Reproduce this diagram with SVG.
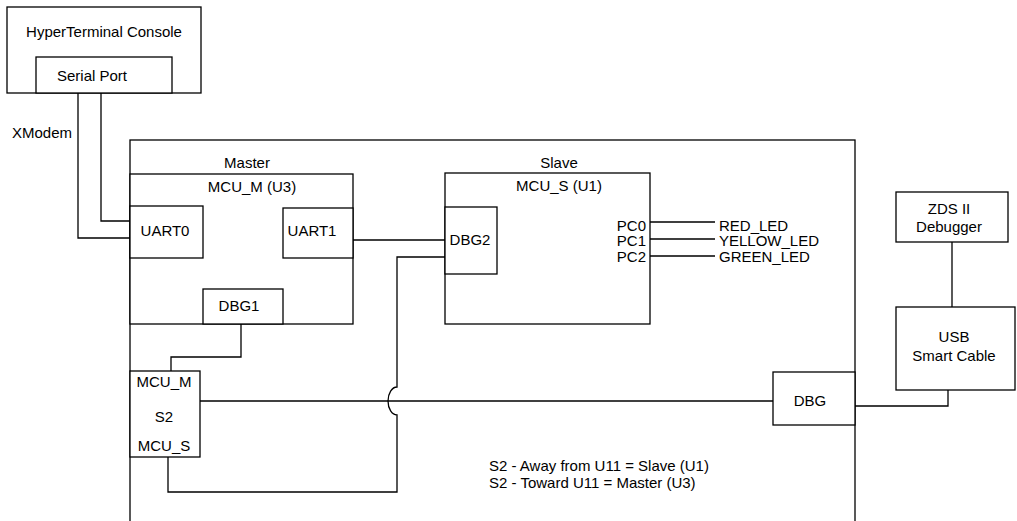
<svg xmlns="http://www.w3.org/2000/svg" width="1017" height="521" viewBox="0 0 1017 521">
<style>
.b{fill:#fff;stroke:#000;stroke-width:1.3}
.w{fill:none;stroke:#000;stroke-width:1.3}
text{font-family:"Liberation Sans",Arial,sans-serif;font-size:15px;fill:#000}
.c{text-anchor:middle}
.r{text-anchor:end}
</style>
<rect width="1017" height="521" fill="#fff"/>
<g id="board"><rect class="b" x="130" y="140" width="725" height="400"/></g>
<g id="hyperterminal">
<rect class="b" x="7" y="7" width="194" height="86"/>
<text class="c" x="104" y="37">HyperTerminal Console</text>
</g>
<g id="serialport">
<rect class="b" x="36" y="57" width="136" height="36"/>
<text class="c" x="92" y="81">Serial Port</text>
</g>
<g id="master">
<text class="c" x="247" y="168">Master</text>
<rect class="b" x="130" y="174" width="223" height="150"/>
<text class="c" x="252" y="192">MCU_M (U3)</text>
</g>
<g id="uart0"><rect class="b" x="130" y="206" width="73" height="52"/><text class="c" x="165" y="236">UART0</text></g>
<g id="uart1"><rect class="b" x="283" y="208" width="70" height="50"/><text class="c" x="312" y="236">UART1</text></g>
<g id="dbg1"><rect class="b" x="203" y="289" width="80" height="35"/><text class="c" x="239" y="311">DBG1</text></g>
<g id="slave">
<text class="c" x="559" y="168">Slave</text>
<rect class="b" x="445" y="173" width="205" height="151"/>
<text class="c" x="559" y="191">MCU_S (U1)</text>
<text class="r" x="646" y="231">PC0</text>
<text class="r" x="646" y="246">PC1</text>
<text class="r" x="646" y="262">PC2</text>
</g>
<g id="dbg2"><rect class="b" x="445" y="207" width="52" height="67"/><text class="c" x="470" y="245">DBG2</text></g>
<g id="s2">
<rect class="b" x="130" y="371" width="70" height="86"/>
<text class="c" x="164" y="387">MCU_M</text>
<text class="c" x="164" y="422">S2</text>
<text class="c" x="164" y="451">MCU_S</text>
</g>
<g id="dbg"><rect class="b" x="773" y="372" width="82" height="53"/><text class="c" x="810" y="406">DBG</text></g>
<g id="zds"><rect class="b" x="896" y="192" width="112" height="50"/><text class="c" x="949" y="214">ZDS II</text><text class="c" x="949" y="232">Debugger</text></g>
<g id="usb"><rect class="b" x="896" y="307" width="119" height="83"/><text class="c" x="954" y="342">USB</text><text class="c" x="954" y="361">Smart Cable</text></g>
<g id="connectors">
<path class="w" d="M101,93 V221 H130"/>
<path class="w" d="M78,93 V238 H130"/>
<path class="w" d="M353,240 H445"/>
<path class="w" d="M445,257 H397 V387 A9,14 0 0 0 397,415 V492 H168 V457"/>
<path class="w" d="M241,324 V357 H171 V371"/>
<path class="w" d="M200,401 H773"/>
<path class="w" d="M855,406 H948 V390"/>
<path class="w" d="M952,242 V307"/>
<path class="w" d="M650,222 H715 M650,239 H715 M650,256 H715"/>
</g>
<g id="labels">
<text x="12" y="138">XModem</text>
<text x="719" y="231">RED_LED</text>
<text x="719" y="246">YELLOW_LED</text>
<text x="719" y="262">GREEN_LED</text>
<text x="489" y="471">S2 - Away from U11 = Slave (U1)</text>
<text x="489" y="488">S2 - Toward U11 = Master (U3)</text>
</g>
</svg>
